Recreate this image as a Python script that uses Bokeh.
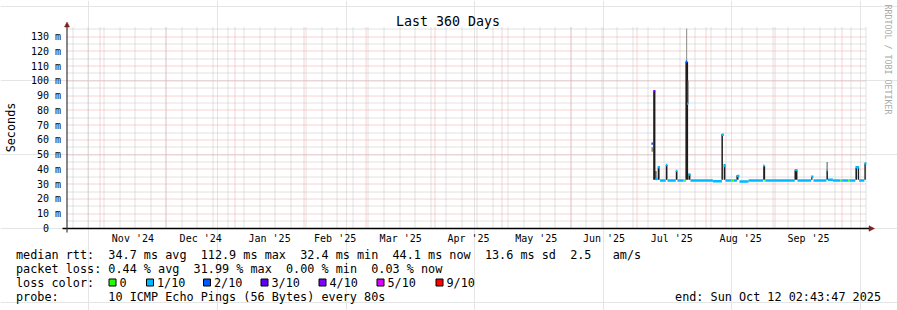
import math
import pandas as pd
from bokeh.plotting import figure
from bokeh.models import Range1d, Label, Arrow, NormalHead, BoxAnnotation
from bokeh.embed import file_html
from bokeh.resources import INLINE

# ---------------- data ----------------
START = "2024-10-17 02:43:47"
END = "2025-10-12 02:43:47"

y_ticks = [0, 10, 20, 30, 40, 50, 60, 70, 80, 90, 100, 110, 120, 130]
y_tick_labels = ["0\u00a0\u00a0", "10 m", "20 m", "30 m", "40 m", "50 m", "60 m", "70 m",
                 "80 m", "90 m", "100 m", "110 m", "120 m", "130 m"]
y_minor = [5, 15, 25, 35, 45, 55, 65, 75, 85, 95, 105, 115, 125, 135]

month_starts = ["2024-11-01", "2024-12-01", "2025-01-01", "2025-02-01", "2025-03-01",
                "2025-04-01", "2025-05-01", "2025-06-01", "2025-07-01", "2025-08-01",
                "2025-09-01", "2025-10-01"]
month_labels = ["Nov '24", "Dec '24", "Jan '25", "Feb '25", "Mar '25", "Apr '25",
                "May '25", "Jun '25", "Jul '25", "Aug '25", "Sep '25"]

# median rtt (step series: each value holds until the next time), in ms
med_time = ["2025-07-07 08:00", "2025-07-08 04:00", "2025-07-09 03:30", "2025-07-10 04:00",
            "2025-07-11 04:00", "2025-07-13 19:00", "2025-07-14 13:00", "2025-07-18 07:00",
            "2025-07-19 01:00", "2025-07-21 15:00", "2025-07-22 08:00", "2025-07-22 18:00",
            "2025-07-23 10:00", "2025-07-23 22:00", "2025-07-24 21:00", "2025-08-04 00:00",
            "2025-08-08 01:00", "2025-08-08 22:00", "2025-08-09 15:00", "2025-08-12 08:00",
            "2025-08-13 06:00", "2025-08-14 20:00", "2025-08-15 22:00", "2025-08-20 00:00",
            "2025-08-26 15:00", "2025-08-27 05:00", "2025-08-27 21:00", "2025-09-09 20:00",
            "2025-09-11 01:00", "2025-09-17 05:00", "2025-09-18 06:00", "2025-09-24 02:00",
            "2025-09-24 18:00", "2025-09-27 00:00", "2025-09-30 09:00", "2025-10-01 04:00",
            "2025-10-03 21:00", "2025-10-04 14:00", "2025-10-07 03:00", "2025-10-08 19:00",
            "2025-10-11 04:00"]
med_rtt = [57.5, 93.0, 33.5, 41.5, 32.5, 43.0, 32.5, 39.0, 32.5, 32.5,
           32.5, 112.9, 84.5, 36.5, 32.5, 32.0, 63.5, 42.5, 32.5, 32.5,
           32.5, 35.5, 31.8, 32.5, 42.5, 32.5, 32.5, 39.5, 32.5, 35.0,
           32.5, 39.5, 33.0, 32.5, 32.5, 32.5, 32.5, 32.5, 41.5, 32.5,
           44.1]
med_loss = [2, 4, 1, 1, 1, 1, 1, 1, 1, 0,
            1, 2, 1, 1, 1, 1, 1, 1, 1, 0,
            1, 1, 1, 1, 1, 0, 1, 1, 1, 1,
            1, 1, 1, 1, 0, 1, 0, 1, 1, 1,
            1]

# smoke (spread of the pings), in ms
smoke_from = ["2025-07-07 08:00", "2025-07-08 03:00", "2025-07-09 03:00", "2025-07-10 04:00",
              "2025-07-13 19:00", "2025-07-18 07:00", "2025-07-22 15:00", "2025-07-22 23:00",
              "2025-07-23 16:00", "2025-07-24 00:00", "2025-08-07 20:00", "2025-08-08 21:00",
              "2025-08-14 14:00", "2025-08-26 15:00", "2025-09-09 17:00", "2025-09-17 05:00",
              "2025-09-24 02:00", "2025-09-24 02:00", "2025-10-07 03:00", "2025-10-08 06:00",
              "2025-10-11 04:00"]
smoke_to = ["2025-07-08 04:00", "2025-07-09 03:00", "2025-07-09 14:00", "2025-07-11 00:00",
            "2025-07-14 13:00", "2025-07-19 01:00", "2025-07-23 20:00", "2025-07-23 10:00",
            "2025-07-24 03:00", "2025-07-24 21:00", "2025-08-08 12:00", "2025-08-09 15:00",
            "2025-08-15 12:00", "2025-08-27 12:00", "2025-09-11 01:00", "2025-09-17 19:00",
            "2025-09-24 18:00", "2025-09-24 18:00", "2025-10-07 22:00", "2025-10-08 19:00",
            "2025-10-11 19:00"]
smoke_low = [52.0, 33.0, 33.0, 33.0, 33.0, 33.0, 33.0, 112.9, 84.5, 33.0, 33.0,
             33.0, 33.0, 33.0, 33.0, 33.0, 33.0, 39.0, 33.0, 33.0, 33.0]
smoke_high = [55.0, 93.0, 39.0, 41.5, 43.0, 39.0, 112.9, 135.5, 100.0, 37.0, 64.0,
              43.5, 36.0, 42.5, 39.5, 35.0, 39.0, 45.0, 41.0, 41.0, 44.0]
smoke_shade = [1, 0, 0, 0, 0, 0, 0, 1, 1, 0, 0, 0, 0, 0, 0, 0, 0, 1, 0, 0, 0]
shade_colors = ["#1c1c1c", "#8c8c8c"]

loss_colors = ["#26ff00", "#00b8ff", "#0059ff", "#5e00ff", "#7e00ff", "#dd00ff", "#ff0000"]
loss_labels = ["0", "1/10", "2/10", "3/10", "4/10", "5/10", "9/10"]

title_text = "Last 360 Days"
y_title = "Seconds"
watermark = "RRDTOOL / TOBI OETIKER"
legend_rows = [
    [(0, "median rtt:"), (13, "34.7 ms avg"), (26, "112.9 ms max"), (40, "32.4 ms min"),
     (53, "44.1 ms now"), (66, "13.6 ms sd"), (78, "2.5"), (84, "am/s")],
    [(0, "packet loss:"), (13, "0.44 % avg"), (25, "31.99 % max"), (38, "0.00 % min"),
     (50, "0.03 % now")],
    [(0, "loss color:")],
    [(0, "probe:"), (13, "10 ICMP Echo Pings (56 Bytes) every 80s")],
]
end_text = "end: Sun Oct 12 02:43:47 2025"

# ---------------- layout (canvas pixels) ----------------
FONT = "DejaVu Sans Mono"
W, H = 897, 310
FL, FR, FT, FB = 66, 866, 26, 228     # plot area edges
loss_box_left = [108, 145.5, 202.5, 260, 318, 376, 435]   # legend swatch positions
EPOCH = pd.Timestamp("1970-01-01")


def ms(values):
    idx = pd.DatetimeIndex(pd.to_datetime(values))
    return [int((t - EPOCH) // pd.Timedelta(milliseconds=1)) for t in idx]


x0, x1 = ms([START, END])
KX = (x1 - x0) / (FR - FL)            # ms of time per pixel
PPU = 192.0 / 130.0                   # pixels per ms of rtt
Y_TOP = (FB - FT) / PPU

# the frame covers the whole canvas, so texts in the margins are not clipped
p = figure(width=W, height=H,
           x_range=Range1d(x0 - FL * KX, x0 + (W - FL) * KX),
           y_range=Range1d(-(H - FB) / PPU, FB / PPU),
           x_axis_location=None, y_axis_location=None,
           min_border=0, min_border_left=0, min_border_right=0,
           min_border_top=0, min_border_bottom=0,
           output_backend="svg", toolbar_location=None,
           background_fill_color="#ffffff", border_fill_color="#ffffff",
           outline_line_color=None)


def snap_x(t):
    px = FL + (t - x0) / KX
    return x0 + (math.floor(px) + 0.5 - FL) * KX


def snap_y(v):
    py = FB - v * PPU
    return (FB - (math.floor(py) + 0.5)) / PPU


# ---------------- grid ----------------
weeks = ms(pd.date_range("2024-10-20", "2025-10-12", freq="7D"))
months = ms(month_starts)
grid_gray = "#c4c4c4"
grid_red = "#f0a8a8"


def vgrid(ts, col):
    xs = [snap_x(t) for t in ts]
    p.segment(x0=xs, x1=xs, y0=[0] * len(xs), y1=[Y_TOP] * len(xs),
              line_color=col, line_width=1, line_dash="1 1")


def hgrid(vs, col):
    ys = [snap_y(v) for v in vs]
    p.segment(x0=[x0] * len(ys), x1=[x1] * len(ys), y0=ys, y1=ys,
              line_color=col, line_width=1, line_dash="1 1")


vgrid(weeks, grid_gray)
hgrid(y_minor, grid_gray)
vgrid(months, grid_red)
hgrid(y_ticks[1:], grid_red)

# ---------------- data marks ----------------
p.quad(left=ms(smoke_from), right=ms(smoke_to), bottom=smoke_low, top=smoke_high,
       fill_color=[shade_colors[s] for s in smoke_shade], line_color=None)

t_start = ms(med_time)
t_end = t_start[1:] + [x1]
p.segment(x0=t_start, x1=t_end, y0=med_rtt, y1=med_rtt,
          line_color=[loss_colors[k] for k in med_loss], line_width=2.4, line_cap="butt")

# ---------------- axis lines with arrows (screen units, origin bottom-left) ----------------
arrow_col = "#801f1f"
p.add_layout(Arrow(x_start=62, y_start=H - FB, x_end=874, y_end=H - FB,
                   start_units="screen", end_units="screen",
                   line_color="#000000", line_width=1.6,
                   end=NormalHead(size=5.5, fill_color=arrow_col, line_color=arrow_col,
                                  line_width=0.5)))
p.add_layout(Arrow(x_start=FL + 0.5, y_start=H - 232, x_end=FL + 0.5, y_end=H - 21.5,
                   start_units="screen", end_units="screen",
                   line_color="#3a3a3a", line_width=1.2,
                   end=NormalHead(size=5, fill_color=arrow_col, line_color=arrow_col,
                                  line_width=0.5)))


# ---------------- texts (vertically centred on cy) ----------------
def put(text, cx, cy, size, align="left", angle=0.0, color="#000000"):
    p.add_layout(Label(x=cx, y=H - cy, x_units="screen", y_units="screen",
                       text=text, text_font=FONT, text_font_size=f"{size}px",
                       text_align=align, text_baseline="middle", angle=angle,
                       text_color=color))


for v, lbl in zip(y_ticks, y_tick_labels):
    p.add_layout(Label(x=60.5, y=v, x_units="screen", y_units="data", text=lbl,
                       text_font=FONT, text_font_size="10px", text_align="right",
                       text_baseline="middle", text_color="#000000"))

mids = [(a + b) // 2 for a, b in zip(months[:-1], months[1:])]
for m, lbl in zip(mids, month_labels):
    p.add_layout(Label(x=m, y=H - 237.7, x_units="data", y_units="screen", text=lbl,
                       text_font=FONT, text_font_size="10px", text_align="center",
                       text_baseline="middle", text_color="#000000"))

put(title_text, 447.5, 20.5, 13.3, align="center")
put(y_title, 10.5, 127, 11.8, align="center", angle=math.pi / 2)
put(watermark, 887.5, 59, 8.3, align="center", angle=-math.pi / 2, color="#aaaaaa")

ADV = 11.8 * 0.60205
row_y = [254, 268, 282, 296]
for row, yc in zip(legend_rows, row_y):
    for col, txt in row:
        put(txt, 15.5 + col * ADV, yc, 11.8)
put(end_text, 880.5, 296, 11.8, align="right")

# loss colour swatches and their labels
for bx, c, lbl in zip(loss_box_left, loss_colors, loss_labels):
    p.add_layout(BoxAnnotation(left=bx + 0.5, right=bx + 7.5, top=H - 278.5, bottom=H - 285.5,
                               left_units="screen", right_units="screen",
                               top_units="screen", bottom_units="screen",
                               fill_color=c, fill_alpha=1.0, line_color="#000000",
                               line_alpha=1.0, line_width=1))
    put(lbl, bx + 11, 282, 11.8)

open("out.html", "w").write(file_html(p, INLINE))
